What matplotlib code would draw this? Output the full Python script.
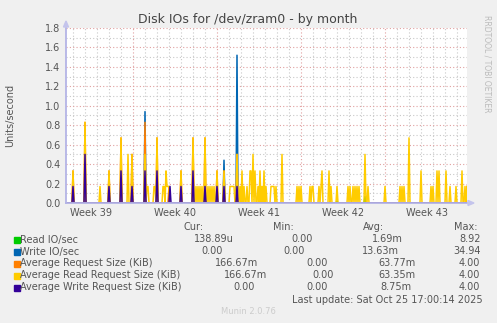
import numpy as np
import matplotlib
matplotlib.use("Agg")
import matplotlib.pyplot as plt
from matplotlib.transforms import blended_transform_factory
from matplotlib.patches import Rectangle

# ---- data: 2-hour samples, time measured in days since Monday of week 39 ----
n_samples = 402
first_sample_day = 17 / 12
sample_step_day = 1 / 12

week_labels = ["Week 39", "Week 40", "Week 41", "Week 42", "Week 43"]
week_starts = [0, 7, 14, 21, 28]

# non-zero samples (sample index, value); every other sample is 0
read_io = [(55, 0.02), (66, 0.02), (158, 0.03), (271, 0.02), (299, 0.065)]
write_io = [(79, 0.94), (158, 0.44), (171, 1.52)]
avg_size = [(7, 0.33), (19, 0.83), (43, 0.33), (55, 0.67), (66, 0.50), (79, 0.83),
            (91, 0.67), (103, 0.17), (115, 0.33), (127, 0.67), (139, 0.67),
            (151, 0.33), (158, 0.33), (171, 0.50), (401, 0.17)]
read_size = [(7, 0.33), (19, 0.83), (34, 0.17), (43, 0.33), (55, 0.67), (62, 0.50),
             (66, 0.50), (79, 0.50), (81, 0.17), (82, 0.17), (88, 0.17), (89, 0.17),
             (91, 0.67), (97, 0.17), (98, 0.17), (100, 0.33), (101, 0.17), (102, 0.17),
             (103, 0.17), (115, 0.33), (127, 0.67), (130, 0.17), (132, 0.17),
             (134, 0.17), (136, 0.17), (139, 0.67), (142, 0.17), (144, 0.17),
             (146, 0.17), (148, 0.17), (151, 0.33), (158, 0.33), (164, 0.17),
             (165, 0.17), (166, 0.17), (167, 0.17), (168, 0.17), (171, 0.50),
             (174, 0.17), (176, 0.33), (178, 0.17), (181, 0.17), (184, 0.33),
             (185, 0.33), (187, 0.50), (189, 0.33), (192, 0.17), (194, 0.33),
             (196, 0.17), (198, 0.33), (200, 0.17), (205, 0.17), (206, 0.17),
             (207, 0.17), (208, 0.17), (210, 0.17), (216, 0.50), (231, 0.17),
             (233, 0.17), (235, 0.17), (244, 0.17), (246, 0.17), (247, 0.17),
             (253, 0.17), (255, 0.17), (256, 0.33), (263, 0.33), (265, 0.17),
             (271, 0.17), (282, 0.17), (284, 0.17), (287, 0.17), (289, 0.17),
             (291, 0.17), (293, 0.17), (299, 0.50), (302, 0.17), (319, 0.17),
             (334, 0.17), (336, 0.17), (338, 0.17), (343, 0.67), (355, 0.33),
             (365, 0.17), (367, 0.17), (371, 0.33), (373, 0.33), (380, 0.33),
             (384, 0.17), (390, 0.17), (396, 0.33), (399, 0.17), (401, 0.17)]
write_size = [(7, 0.17), (19, 0.50), (43, 0.17), (55, 0.33), (66, 0.17), (79, 0.33),
              (91, 0.33), (104, 0.17), (115, 0.17), (127, 0.33), (139, 0.17),
              (151, 0.17), (158, 0.17), (171, 0.17)]

series_names = ["Read IO/sec", "Write IO/sec", "Average Request Size (KiB)",
                "Average Read Request Size (KiB)", "Average Write Request Size (KiB)"]
series_colors = ["#00cc00", "#0066b3", "#ff8000", "#ffcc00", "#330099"]
cur_vals = ["138.89u", "0.00", "166.67m", "166.67m", "0.00"]
min_vals = ["0.00", "0.00", "0.00", "0.00", "0.00"]
avg_vals = ["1.69m", "13.63m", "63.77m", "63.35m", "8.75m"]
max_vals = ["8.92", "34.94", "4.00", "4.00", "4.00"]


def expand(points):
    y = np.zeros(n_samples)
    for i, v in points:
        y[i] = v
    return y


t = first_sample_day + np.arange(n_samples) * sample_step_day

W, H = 497, 323
fig = plt.figure(figsize=(W / 100, H / 100), dpi=100, facecolor="#f0f0f0")


def fx(x):
    return x / W


def fy(y):
    return 1 - y / H


ax = fig.add_axes([fx(66), fy(203), fx(467) - fx(66), (203 - 28) / H])
ax.set_facecolor("white")
ax.set_xlim(17 / 12, 418 / 12)
ax.set_ylim(0, 1.8)

# grid
for d in range(2, 35):
    if d % 7 == 0:
        continue
    ax.axvline(d, color="#c8c8c8", lw=0.8, ls=(0, (1, 2)), zorder=0)
for y in np.arange(0.1, 1.81, 0.2):
    ax.axhline(y, color="#c8c8c8", lw=0.8, ls=(0, (1, 2)), zorder=0)
for d in week_starts[1:]:
    ax.axvline(d, color="#e0a0a0", lw=0.8, ls=(0, (1, 2)), zorder=0.5)
for y in np.arange(0.2, 1.81, 0.2):
    ax.axhline(y, color="#e0a0a0", lw=0.8, ls=(0, (1, 2)), zorder=0.5)

for pts, c in zip([read_io, write_io, avg_size, read_size, write_size], series_colors):
    ax.plot(t, expand(pts), color=c, lw=1.1, zorder=2)

for s in ["top", "right"]:
    ax.spines[s].set_visible(False)
for s in ["left", "bottom"]:
    ax.spines[s].set_color("#b4b4e6")
    ax.spines[s].set_linewidth(1.3)
    ax.spines[s].set_zorder(3)

ax.set_yticks(np.arange(0, 1.81, 0.2))
ax.set_yticklabels([f"{v:.1f}" for v in np.arange(0, 1.81, 0.2)])
ax.tick_params(axis="y", length=0, pad=4, labelsize=7, labelcolor="#555555")
ax.set_xticks([])

# axis arrows
fig.patches.append(plt.Polygon([[fx(63.5), fy(27)], [fx(68.5), fy(27)], [fx(66), fy(21)]],
                               closed=True, color="#c4c4ec", transform=fig.transFigure))
fig.patches.append(plt.Polygon([[fx(468), fy(200.5)], [fx(468), fy(205.5)], [fx(474), fy(203)]],
                               closed=True, color="#c4c4ec", transform=fig.transFigure))

# week labels
tr = blended_transform_factory(ax.transData, fig.transFigure)
for lab, ws in zip(week_labels, week_starts):
    ax.text(ws + 3.5, fy(213), lab, transform=tr, ha="center", va="center",
            fontsize=7, color="#555555", clip_on=False)

fig.text(fx(248), fy(19), "Disk IOs for /dev/zram0 - by month", ha="center", va="center",
         fontsize=9, color="#444444")
fig.text(fx(10), fy(115), "Units/second", rotation=90, ha="center", va="center",
         fontsize=7, color="#555555")
fig.text(fx(487), fy(15), "RRDTOOL / TOBI OETIKER", rotation=270, ha="center", va="top",
         fontsize=5.5, color="#bbbbbb")

# legend table
txt = dict(fontsize=7, color="#555555", va="center")
for lab, x in zip(["Cur:", "Min:", "Avg:", "Max:"], [183, 273, 363, 454]):
    fig.text(fx(x), fy(227), lab, ha="left", **txt)

row_y = [239.5, 251.5, 263.5, 275.5, 287.5]
col_x = [[194, 291, 372, 459], [201, 283, 362, 453], [215, 306, 378, 459],
         [224, 312, 378, 459], [233, 306, 380, 459]]
for k in range(5):
    y = row_y[k]
    fig.patches.append(Rectangle((fx(14), fy(y + 3)), 6 / W, 6 / H,
                                 color=series_colors[k], transform=fig.transFigure))
    fig.text(fx(20.5), fy(y), series_names[k], ha="left", **txt)
    for x, v in zip(col_x[k], [cur_vals[k], min_vals[k], avg_vals[k], max_vals[k]]):
        fig.text(fx(x), fy(y), v, ha="left", **txt)

fig.text(fx(483), fy(300), "Last update: Sat Oct 25 17:00:14 2025", ha="right", **txt)
fig.text(fx(248), fy(312), "Munin 2.0.76", ha="center", va="center", fontsize=6,
         color="#cccccc")

fig.savefig("out.png", dpi=100, facecolor=fig.get_facecolor())
